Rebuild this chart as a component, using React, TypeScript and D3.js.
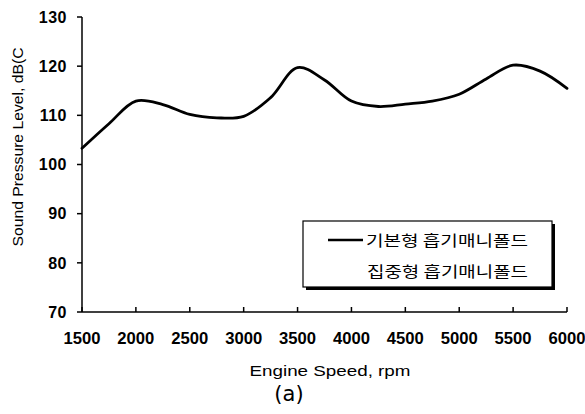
import React from "react";
import * as d3 from "d3";

const rpm = [1500, 1750, 2000, 2250, 2500, 2750, 3000, 3250, 3500, 3750, 4000, 4250, 4500, 4750, 5000, 5250, 5500, 5750, 6000];
const spl = [103.3, 108.3, 112.9, 112.2, 110.2, 109.5, 109.8, 113.6, 119.7, 117.2, 112.9, 111.8, 112.3, 112.9, 114.3, 117.4, 120.2, 119.0, 115.5];
const xTicks = [1500, 2000, 2500, 3000, 3500, 4000, 4500, 5000, 5500, 6000];
const yTicks = [70, 80, 90, 100, 110, 120, 130];
const legendLabels = ["기본형 흡기매니폴드", "집중형 흡기매니폴드"];

export default function App() {
  const W = 585, H = 414;
  const x = d3.scaleLinear().domain([1500, 6000]).range([82, 567]);
  const y = d3.scaleLinear().domain([70, 130]).range([312, 17]);
  const line = d3.line<number>()
    .x((_, i) => x(rpm[i]))
    .y((d) => y(d))
    .curve(d3.curveCatmullRom.alpha(0.5));
  const font = "'Liberation Sans', Arial, sans-serif";
  const kfont = "'Noto Sans CJK KR', sans-serif";
  return (
    <svg width={W} height={H} style={{ position: "absolute", left: 0, top: 0, background: "#fff" }}>
      <rect width={W} height={H} fill="#fff" />
      {/* axes */}
      <line x1={82} x2={82} y1={y(130)} y2={y(70)} stroke="#000" strokeWidth={1.5} />
      <line x1={82} x2={567} y1={y(70)} y2={y(70)} stroke="#000" strokeWidth={1.5} />
      {yTicks.map((t) => (
        <g key={"y" + t}>
          <line x1={77} x2={82} y1={y(t)} y2={y(t)} stroke="#000" strokeWidth={1.5} />
          <text x={67} y={y(t)} dy="0.36em" textAnchor="end" fontFamily={font} fontSize={16} fontWeight={700} fill="#000" letterSpacing={0.5}>{t}</text>
        </g>
      ))}
      {xTicks.map((t) => (
        <g key={"x" + t}>
          <line x1={x(t)} x2={x(t)} y1={y(70)} y2={y(70) - 5} stroke="#000" strokeWidth={1.5} />
          <text x={x(t)} y={344} textAnchor="middle" fontFamily={font} fontSize={16} fontWeight={700} fill="#000" textLength={37} lengthAdjust="spacingAndGlyphs">{t}</text>
        </g>
      ))}
      {/* data */}
      <path d={line(spl) || ""} fill="none" stroke="#000" strokeWidth={2.8} strokeLinejoin="round" strokeLinecap="round" />
      {/* axis titles */}
      <text x={330} y={376} textAnchor="middle" fontFamily={font} fontSize={14.5} fill="#000" textLength={161} lengthAdjust="spacingAndGlyphs">Engine Speed, rpm</text>
      <text x={289} y={401} textAnchor="middle" fontFamily={"'DejaVu Sans', sans-serif"} fontSize={21} fill="#000">(a)</text>
      <text transform="translate(23,147) rotate(-90)" textAnchor="middle" fontFamily={font} fontSize={15} fill="#000" textLength={199} lengthAdjust="spacingAndGlyphs">Sound Pressure Level, dB(C</text>
      {/* legend */}
      <rect x={306} y={224} width={249} height={66} fill="#000" />
      <rect x={303} y={221} width={249} height={66} fill="#fff" stroke="#000" strokeWidth={1.2} />
      <line x1={328} x2={363} y1={240} y2={240} stroke="#000" strokeWidth={2.4} />
      <text x={366} y={246} fontFamily={kfont} fontSize={15} fill="#000" textLength={162} lengthAdjust="spacingAndGlyphs">{legendLabels[0]}</text>
      <text x={367} y={277} fontFamily={kfont} fontSize={15} fill="#000" textLength={161} lengthAdjust="spacingAndGlyphs">{legendLabels[1]}</text>
    </svg>
  );
}
